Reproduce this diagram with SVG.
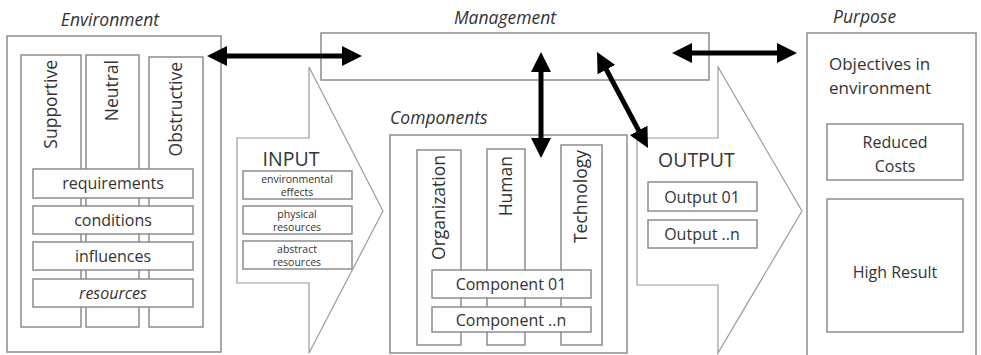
<svg xmlns="http://www.w3.org/2000/svg" width="981" height="355" viewBox="0 0 981 355">
<style>
  .box{fill:#fff;stroke:#8c8c8c;stroke-width:1.5}
  .arr{fill:#fff;stroke:#9a9a9a;stroke-width:1.2}
  text{font-family:"Open Sans","Noto Sans","Liberation Sans",sans-serif;fill:#333}
  .t{font-size:17.5px;font-style:italic}
  .b{font-size:16px;text-anchor:middle}
  .v{font-size:17.5px;text-anchor:end}
  .s{font-size:10.5px;text-anchor:middle}
  .big{font-size:19.5px}
  .conn{stroke:#000;stroke-width:5;fill:none;marker-start:url(#ah);marker-end:url(#ah)}
</style>
<defs>
  <marker id="ah" markerUnits="userSpaceOnUse" markerWidth="20" markerHeight="20" refX="10" refY="10" orient="auto-start-reverse" viewBox="0 0 20 20">
    <path d="M0,0 L20,10 L0,20 z" fill="#000"/>
  </marker>
</defs>
<rect width="981" height="355" fill="#fff"/>

<g id="environment">
  <text class="t" x="110" y="26" text-anchor="middle">Environment</text>
  <rect class="box" x="7" y="36" width="214" height="316"/>
  <rect class="box" x="21" y="55" width="60" height="272"/>
  <rect class="box" x="86" y="55" width="53" height="272"/>
  <rect class="box" x="149" y="57" width="54" height="270"/>
  <text class="v" transform="translate(57,60) rotate(-90)">Supportive</text>
  <text class="v" transform="translate(118,60) rotate(-90)">Neutral</text>
  <text class="v" transform="translate(182,62) rotate(-90)">Obstructive</text>
  <rect class="box" x="33" y="169" width="160" height="29"/>
  <rect class="box" x="33" y="206" width="160" height="28"/>
  <rect class="box" x="33" y="242" width="160" height="28"/>
  <rect class="box" x="33" y="279" width="160" height="28"/>
  <text class="b" x="113" y="189">requirements</text>
  <text class="b" x="113" y="226">conditions</text>
  <text class="b" x="113" y="262">influences</text>
  <text class="b" x="113" y="299" font-style="italic">resources</text>
</g>

<g id="management">
  <text class="t" x="505" y="24" text-anchor="middle">Management</text>
  <rect class="box" x="321" y="33" width="388" height="47"/>
</g>

<g id="input">
  <polygon class="arr" points="237,138 309,138 309,67 383,211 309,353 309,283 237,283"/>
  <text class="big" x="291" y="166" text-anchor="middle">INPUT</text>
  <rect class="box" x="243" y="171" width="109" height="28"/>
  <rect class="box" x="243" y="206" width="109" height="28"/>
  <rect class="box" x="243" y="241" width="109" height="28"/>
  <text class="s" x="297" y="183">environmental</text>
  <text class="s" x="297" y="196">effects</text>
  <text class="s" x="297" y="218">physical</text>
  <text class="s" x="297" y="231">resources</text>
  <text class="s" x="297" y="253">abstract</text>
  <text class="s" x="297" y="266">resources</text>
</g>

<g id="components">
  <text class="t" x="390" y="124">Components</text>
  <rect class="box" x="390" y="135" width="237" height="218"/>
  <rect class="box" x="417" y="150" width="44" height="195"/>
  <rect class="box" x="487" y="149" width="38" height="196"/>
  <rect class="box" x="561" y="145" width="41" height="200"/>
  <text class="v" transform="translate(445,155) rotate(-90)">Organization</text>
  <text class="v" transform="translate(512,156) rotate(-90)">Human</text>
  <text class="v" transform="translate(587,150) rotate(-90)">Technology</text>
  <rect class="box" x="432" y="270" width="159" height="28"/>
  <rect class="box" x="432" y="307" width="159" height="25"/>
  <text class="b" x="511" y="290">Component 01</text>
  <text class="b" x="511" y="326">Component ..n</text>
</g>

<g id="output">
  <polygon class="arr" points="637,138 718,138 718,67 802,211 718,353 718,285 637,285"/>
  <text class="big" x="658" y="167">OUTPUT</text>
  <rect class="box" x="648" y="182" width="109" height="29"/>
  <rect class="box" x="648" y="220" width="109" height="28"/>
  <text class="b" x="702" y="203">Output 01</text>
  <text class="b" x="702" y="240">Output ..n</text>
</g>

<g id="purpose">
  <text class="t" x="833" y="23">Purpose</text>
  <rect class="box" x="807" y="33" width="169" height="330"/>
  <text x="829" y="70" font-size="17px">Objectives in</text>
  <text x="829" y="94" font-size="17px">environment</text>
  <rect class="box" x="827" y="124" width="136" height="56"/>
  <text class="b" x="895" y="148">Reduced</text>
  <text class="b" x="895" y="172">Costs</text>
  <rect class="box" x="827" y="199" width="136" height="133"/>
  <text class="b" x="895" y="278">High Result</text>
</g>

<g id="connectors">
  <line class="conn" x1="217" y1="56" x2="352" y2="56"/>
  <line class="conn" x1="682" y1="53" x2="787" y2="53"/>
  <line class="conn" x1="541" y1="62" x2="541" y2="148"/>
  <line class="conn" x1="601.7" y1="60.8" x2="643.3" y2="139.2"/>
</g>
</svg>
